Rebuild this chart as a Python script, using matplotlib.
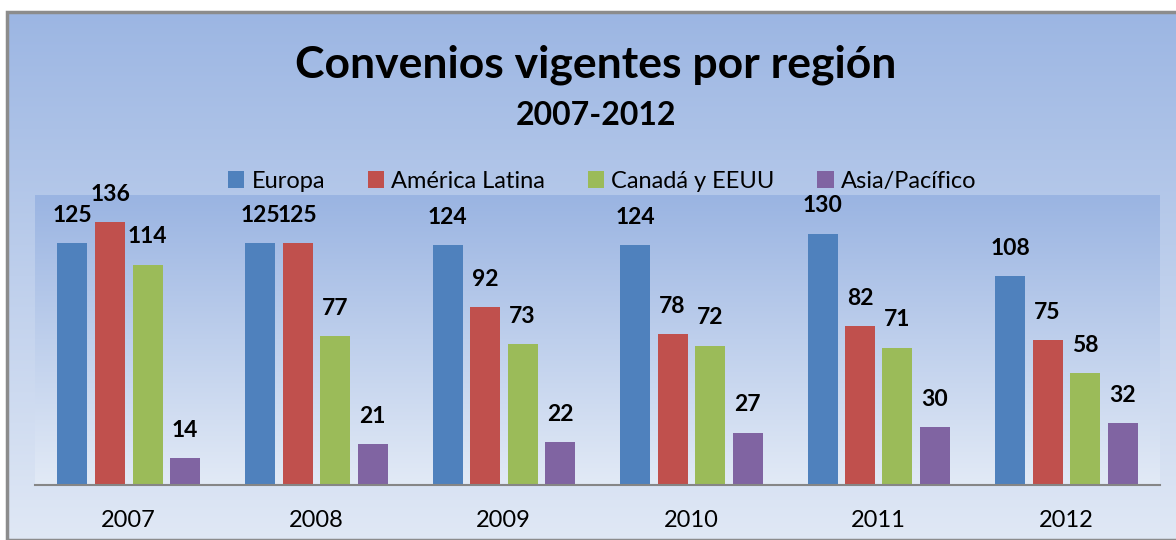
import numpy as np
import matplotlib.pyplot as plt
from matplotlib.patches import Rectangle

YEARS = ['2007', '2008', '2009', '2010', '2011', '2012']
SERIES = ['Europa', 'América Latina', 'Canadá y EEUU', 'Asia/Pacífico']
EUROPA = [125, 125, 124, 124, 130, 108]
AMERICA_LATINA = [136, 125, 92, 78, 82, 75]
CANADA_EEUU = [114, 77, 73, 72, 71, 58]
ASIA_PACIFICO = [14, 21, 22, 27, 30, 32]
COLORS = ['#4f81bd', '#c0504d', '#9bbb59', '#8064a2']

plt.rcParams['font.family'] = ['Lato', 'DejaVu Sans']

fig = plt.figure(figsize=(11.76, 5.40), dpi=100)
W, H = 1176, 540

# chart frame with vertical gradient
bg = fig.add_axes([7 / W, 0, 1 - 7 / W, 1 - 12 / H])
bg.set_axis_off()
grad = np.linspace(0, 1, 256).reshape(-1, 1)
top_c = np.array([0x9c, 0xb6, 0xe3]) / 255
bot_c = np.array([0xe0, 0xe8, 0xf5]) / 255
img = top_c + (bot_c - top_c) * grad[..., None]
bg.imshow(img, aspect='auto', extent=[0, 1, 0, 1])
bg.set_xlim(0, 1)
bg.set_ylim(0, 1)
bg.add_patch(Rectangle((0, 0), 1.2, 1, fill=False, edgecolor='#8c8c8c', lw=2.5,
                       transform=bg.transAxes, clip_on=False))

ax = fig.add_axes([35 / W, 1 - 485 / H, (1160 - 35) / W, (485 - 195) / H])
top_p = np.array([0x9a, 0xb4, 0xe2]) / 255
bot_p = np.array([0xe2, 0xea, 0xf6]) / 255
img2 = top_p + (bot_p - top_p) * grad[..., None]
x = np.arange(len(YEARS))
ax.imshow(img2, aspect='auto', extent=[-0.5, len(YEARS) - 0.5, 0, 150], zorder=0)

values = [EUROPA, AMERICA_LATINA, CANADA_EEUU, ASIA_PACIFICO]
slot = 0.2
width = 0.16
for i, (name, vals, col) in enumerate(zip(SERIES, values, COLORS)):
    pos = x + (i - 1.5) * slot
    bars = ax.bar(pos, vals, width, color=col, label=name, zorder=2)
    for b, v in zip(bars, vals):
        ax.annotate(str(v), (b.get_x() + b.get_width() / 2, v), xytext=(0, 12.5),
                    textcoords='offset points', ha='center', va='bottom',
                    fontsize=16.5, fontweight='bold', color='black')

ax.set_xlim(-0.5, len(YEARS) - 0.5)
ax.set_ylim(0, 150)
ax.set_xticks(x)
ax.set_xticklabels(YEARS, fontsize=17)
ax.set_yticks([])
ax.tick_params(axis='x', length=0, pad=18)
for s in ['top', 'right', 'left']:
    ax.spines[s].set_visible(False)
ax.spines['bottom'].set_color('#868686')
ax.spines['bottom'].set_linewidth(1.5)

fig.text(596 / W, 1 - 65 / H, 'Convenios vigentes por región', ha='center', va='center',
         fontsize=32, fontweight='bold')
fig.text(596 / W, 1 - 115 / H, '2007-2012', ha='center', va='center',
         fontsize=23, fontweight='bold')

fig.legend(loc='center', bbox_to_anchor=(602 / W, 1 - 181 / H), ncol=4, frameon=False,
           fontsize=17, handlelength=0.7, handleheight=0.7, handletextpad=0.3,
           columnspacing=1.8)

fig.savefig('out.png', dpi=100)
